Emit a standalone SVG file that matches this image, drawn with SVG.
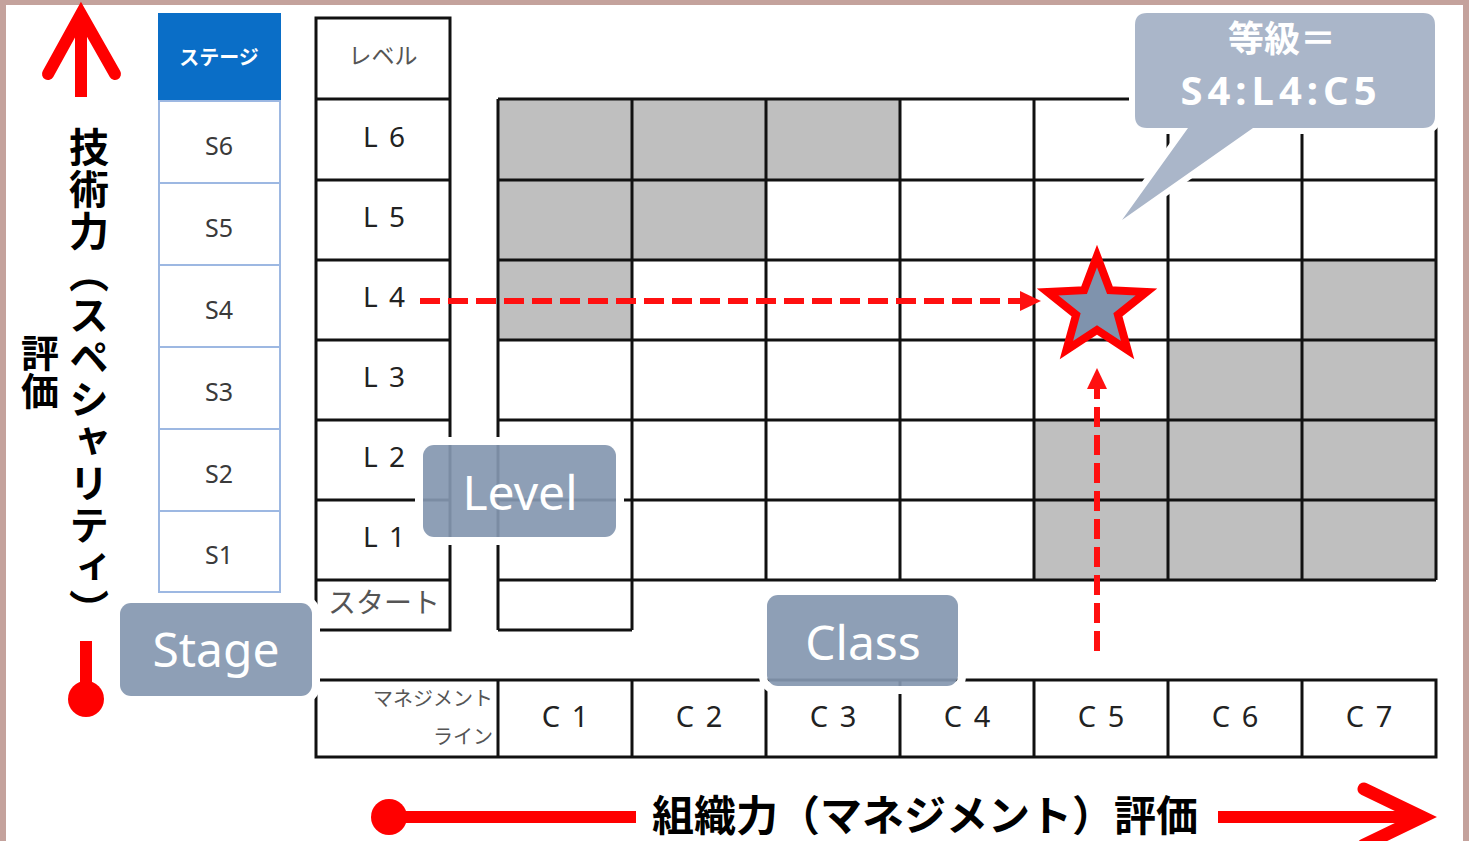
<svg xmlns="http://www.w3.org/2000/svg" width="1469" height="841" viewBox="0 0 1469 841">
<defs>
<style>
.grid{fill:none;stroke:#111;stroke-width:3}
.gray{fill:#bfbfbf}
.scell{fill:#fff;stroke:#9db8e2;stroke-width:2}
.jp{font-family:"Noto Sans CJK JP","Noto Sans",sans-serif}
.lat{font-family:"Noto Sans","Open Sans",sans-serif}
.slab{font-family:"Noto Sans","Open Sans",sans-serif;font-size:25px;fill:#3a3a3a;text-anchor:middle}
.llab{font-family:"Noto Sans","Open Sans",sans-serif;font-size:28px;fill:#222;text-anchor:middle;letter-spacing:2px}
.clab{font-family:"Noto Sans","Open Sans",sans-serif;font-size:29px;fill:#222;text-anchor:middle;letter-spacing:2px}
.small{font-family:"Noto Sans CJK JP",sans-serif;fill:#555}
.tag{fill:#8497b0;fill-opacity:0.92}
.halo{fill:none;stroke:#fff;stroke-width:8}
.tagtxt{font-family:"Noto Sans","Open Sans",sans-serif;font-size:48px;fill:#fff;text-anchor:middle}
.axis{font-family:"Noto Sans CJK JP",sans-serif;font-weight:bold;fill:#000}
.red{stroke:#ff0000;fill:none}
.dash{stroke:#ff1010;stroke-width:6;fill:none;stroke-dasharray:20 8}
</style>
<marker id="ah" markerUnits="userSpaceOnUse" markerWidth="22" markerHeight="22" refX="0" refY="10" orient="auto" viewBox="0 0 22 22">
<path d="M0,0 L21,10 L0,20 z" fill="#ff1010"/>
</marker>
</defs>
<rect x="0" y="0" width="1469" height="841" fill="#fff"/>
<rect x="0" y="0" width="1469" height="5" fill="#c4a29c"/>
<rect x="0" y="0" width="6" height="841" fill="#c4a29c"/>
<rect x="1463" y="0" width="6" height="841" fill="#c4a29c"/>

<!-- vertical axis -->
<g id="axis-vertical">
<path class="red" d="M81,97 L81,16" stroke-width="12"/>
<path class="red" d="M48,74 L81,14 L115,74" stroke-width="12" stroke-linecap="round" stroke-linejoin="miter"/>
<rect x="80" y="641" width="12" height="52" fill="#ff0000"/>
<circle cx="86" cy="699" r="18" fill="#ff0000"/>
<text class="axis" x="89" y="127" font-size="40" letter-spacing="2" style="writing-mode:vertical-rl">技術力（スペシャリティ）</text>
<text class="axis" x="40" y="334" font-size="38" style="writing-mode:vertical-rl">評価</text>
</g>

<!-- horizontal axis -->
<g id="axis-horizontal">
<circle cx="389" cy="817" r="18" fill="#ff0000"/>
<path class="red" d="M389,817 L636,817" stroke-width="12"/>
<path class="red" d="M1218,817 L1416,817" stroke-width="12"/>
<path class="red" d="M1364,789 L1422,817 L1364,845" stroke-width="13" stroke-linecap="round"/>
<text class="axis" x="652" y="831" font-size="42">組織力（マネジメント）評価</text>
</g>

<!-- stage column -->
<g id="stage-column">
<rect x="158" y="13" width="123" height="88" fill="#0a6ec7"/>
<text class="jp" x="219" y="65" font-size="20" font-weight="bold" fill="#fff" text-anchor="middle">ステージ</text>
<rect class="scell" x="159" y="101" width="121" height="82"/>
<rect class="scell" x="159" y="183" width="121" height="82"/>
<rect class="scell" x="159" y="265" width="121" height="82"/>
<rect class="scell" x="159" y="347" width="121" height="82"/>
<rect class="scell" x="159" y="429" width="121" height="82"/>
<rect class="scell" x="159" y="511" width="121" height="81"/>
<text class="slab" x="219" y="155">S6</text>
<text class="slab" x="219" y="237">S5</text>
<text class="slab" x="219" y="319">S4</text>
<text class="slab" x="219" y="401">S3</text>
<text class="slab" x="219" y="483">S2</text>
<text class="slab" x="219" y="564">S1</text>
</g>

<!-- level column -->
<g id="level-column">
<rect class="grid" x="316" y="18" width="134" height="612"/>
<path class="grid" d="M316,99H450M316,180H450M316,260H450M316,340H450M316,420H450M316,500H450M316,580H450"/>
<text class="small" x="383" y="64" font-size="23" text-anchor="middle" fill="#333">レベル</text>
<text class="llab" x="385" y="147">L 6</text>
<text class="llab" x="385" y="227">L 5</text>
<text class="llab" x="385" y="307">L 4</text>
<text class="llab" x="385" y="387">L 3</text>
<text class="llab" x="385" y="467">L 2</text>
<text class="llab" x="385" y="547">L 1</text>
<text class="small" x="328" y="613" font-size="28" fill="#444">スタート</text>
</g>

<!-- matrix -->
<g id="matrix">
<rect class="gray" x="498" y="99" width="402" height="81"/>
<rect class="gray" x="498" y="180" width="268" height="80"/>
<rect class="gray" x="498" y="260" width="134" height="80"/>
<rect class="gray" x="1302" y="260" width="134" height="80"/>
<rect class="gray" x="1168" y="340" width="268" height="80"/>
<rect class="gray" x="1034" y="420" width="402" height="160"/>
<path class="grid" d="M498,99H1436M498,180H1436M498,260H1436M498,340H1436M498,420H1436M498,500H1436M498,580H1436M498,630H632
M498,99V630M632,99V630M766,99V580M900,99V580M1034,99V580M1168,99V580M1302,99V580M1436,99V580"/>
</g>

<!-- class row -->
<g id="class-row">
<rect class="grid" x="316" y="680" width="1120" height="77"/>
<path class="grid" d="M498,680V757M632,680V757M766,680V757M900,680V757M1034,680V757M1168,680V757M1302,680V757"/>
<text class="small" x="493" y="706" font-size="20" text-anchor="end">マネジメント</text>
<text class="small" x="493" y="744" font-size="20" text-anchor="end">ライン</text>
<text class="clab" x="566" y="727">C 1</text>
<text class="clab" x="700" y="727">C 2</text>
<text class="clab" x="834" y="727">C 3</text>
<text class="clab" x="968" y="727">C 4</text>
<text class="clab" x="1102" y="727">C 5</text>
<text class="clab" x="1236" y="727">C 6</text>
<text class="clab" x="1370" y="727">C 7</text>
</g>

<!-- connectors -->
<g id="connectors">
<path class="dash" d="M420,301 L1020,301" marker-end="url(#ah)"/>
<path class="dash" d="M1097,651 L1097,389" marker-end="url(#ah)"/>
</g>

<!-- star -->
<g id="star">
<path d="M1097,256 L1109.9,290.2 L1146.5,291.9 L1117.9,314.8 L1127.6,350.1 L1097,330 L1066.4,350.1 L1076.1,314.8 L1047.5,291.9 L1084.1,290.2 Z" fill="#7f93ad" stroke="#ff0000" stroke-width="8" stroke-linejoin="miter"/>
</g>

<!-- labels -->
<g id="stage-tag">
<rect class="halo" x="116" y="599" width="200" height="101" rx="14"/>
<rect class="tag" x="120" y="603" width="192" height="93" rx="11"/>
<text class="tagtxt" x="216" y="667">Stage</text>
</g>
<g id="level-tag">
<rect class="halo" x="419" y="441" width="201" height="100" rx="14"/>
<rect class="tag" x="423" y="445" width="193" height="92" rx="11"/>
<text class="tagtxt" x="520" y="510">Level</text>
</g>
<g id="class-tag">
<rect class="halo" x="763" y="591" width="199" height="99" rx="14"/>
<rect class="tag" x="767" y="595" width="191" height="91" rx="11"/>
<text class="tagtxt" x="863" y="660">Class</text>
</g>

<!-- callout -->
<g id="callout">
<path d="M1147,13 H1423 Q1435,13 1435,25 V116 Q1435,128 1423,128 H1253 L1122,220 L1188,128 H1147 Q1135,128 1135,116 V25 Q1135,13 1147,13 Z" fill="#aab6c9" stroke="#fff" stroke-width="12" stroke-linejoin="round" paint-order="stroke"/>
<text class="jp" x="1282" y="52" font-size="36" font-weight="bold" fill="#fff" text-anchor="middle">等級＝</text>
<text class="lat" x="1281" y="105" font-size="40" font-weight="bold" fill="#fff" text-anchor="middle" letter-spacing="5">S4:L4:C5</text>
</g>
</svg>
